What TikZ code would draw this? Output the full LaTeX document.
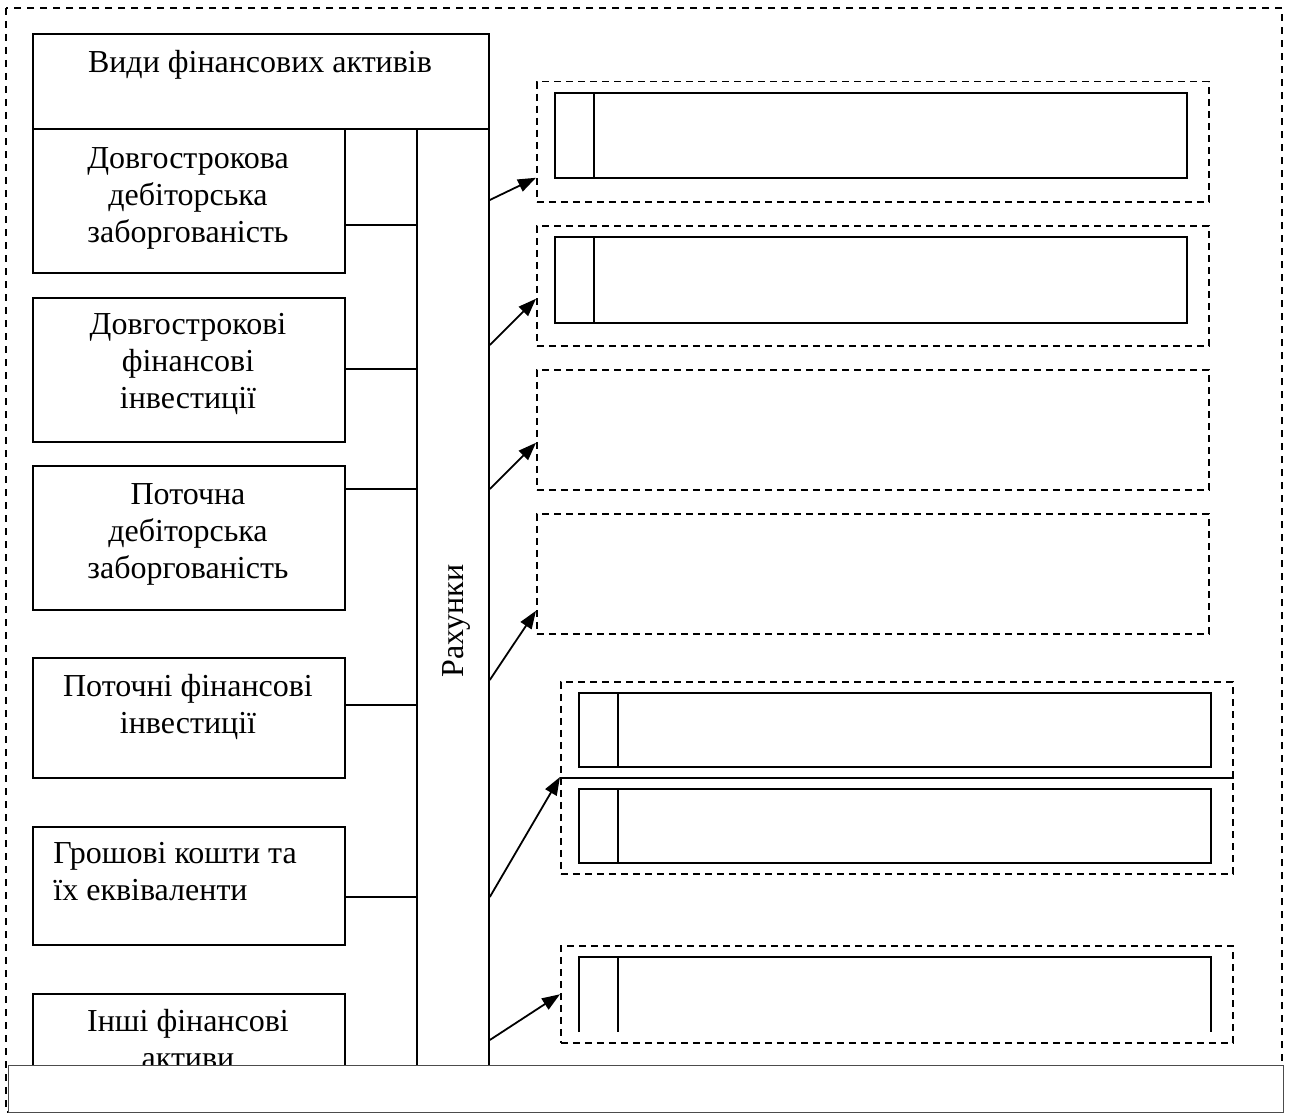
\documentclass[tikz,border=0pt]{standalone}
\usepackage{fontspec}
\setmainfont{Liberation Serif}
\usetikzlibrary{arrows.meta}

\begin{document}
\begin{tikzpicture}
        [
        x=0.5pt, y=-0.5pt,
        every node/.style={font=\fontsize{16}{18.5}\selectfont},
        Box/.style={rectangle,draw,line width=0.9pt,inner sep=0pt,anchor=north west},
        Tag/.style={rectangle,inner sep=0pt,align=center},
        Frame/.style={rectangle,draw,line width=0.75pt,dash pattern=on 3.5pt off 2.5pt,inner sep=0pt,anchor=north west,minimum width=336pt,minimum height=60pt},
        Cell/.style={line width=0.85pt},
        Link/.style={line width=0.7pt},
        Arrow/.style={line width=0.9pt,-{Triangle[length=9pt,width=6.5pt]}},
        ]
        \useasboundingbox (0,0) rectangle (1289,1113);

        \draw[line width=0.75pt,dash pattern=on 3.5pt off 3pt] (6,8) rectangle (1282,1112);

        % left part
        \node[Box,minimum width=228pt,minimum height=47.5pt] (kinds) at (32,33) {};
        \node[Tag,anchor=base] (kindsText) at (260,73) {Види фінансових активів};
        \node[Box,minimum width=36pt,minimum height=468.5pt] (acc) at (416,128) {};
        \node[Tag,rotate=90] (accText) at (456,621) {Рахунки};

\node[Box,minimum width=156pt,minimum height=72pt] (b1) at (32,128) {};
\node[Tag] (t1) at (188,198) {Довгострокова\\дебіторська\\заборгованість};
\node[Box,minimum width=156pt,minimum height=72pt] (b2) at (32,297) {};
\node[Tag] (t2) at (188,363.5) {Довгострокові\\фінансові\\інвестиції};
\node[Box,minimum width=156pt,minimum height=72pt] (b3) at (32,465) {};
\node[Tag] (t3) at (188,534) {Поточна\\дебіторська\\заборгованість};
\node[Box,minimum width=156pt,minimum height=60pt] (b4) at (32,657) {};
\node[Tag] (t4) at (188,706.5) {Поточні фінансові\\інвестиції};
\node[Box,minimum width=156pt,minimum height=59pt] (b5) at (32,826) {};
\node[Tag,anchor=west,align=left] (t5) at (53,872) {Грошові кошти та\\їх еквіваленти};
\node[Box,minimum width=156pt,minimum height=52pt] (b6) at (32,993) {};
\node[Tag] (t6) at (188,1039.5) {Інші фінансові\\активи};

\draw[Link] (b1.east |- 0,225) -- (acc.west |- 0,225);
\draw[Link] (b2.east |- 0,369) -- (acc.west |- 0,369);
\draw[Link] (b3.east |- 0,489) -- (acc.west |- 0,489);
\draw[Link] (b4.east |- 0,705) -- (acc.west |- 0,705);
\draw[Link] (b5.east |- 0,897) -- (acc.west |- 0,897);

% right part
\node[Frame] (d1) at (536,81) {};
\node[Frame] (d2) at (536,225) {};
\node[Frame] (d3) at (536,369) {};
\node[Frame] (d4) at (536,513) {};
\node[Frame,minimum height=48pt] (d5) at (560,681) {};
\node[Frame,minimum height=48pt] (d6) at (560,777) {};
\node[Frame,minimum height=48.5pt] (d7) at (560,945) {};

\draw[Cell] (555,93) rectangle (1187,178) (594,93) -- (594,178);
\draw[Cell] (555,237) rectangle (1187,323) (594,237) -- (594,323);
\draw[Cell] (579,693) rectangle (1211,767) (618,693) -- (618,767);
\draw[Cell] (579,789) rectangle (1211,863) (618,789) -- (618,863);
\draw[Cell] (579,1032) -- (579,957) -- (1211,957) -- (1211,1032) (618,957) -- (618,1032);

\draw[Arrow] (acc.east |- 0,200) -- ([yshift=-18pt]d1.west);
\draw[Arrow] (acc.east |- 0,345) -- ([yshift=-6.5pt]d2.west);
\draw[Arrow] (acc.east |- 0,489) -- ([yshift=-6.5pt]d3.west);
\draw[Arrow] (acc.east |- 0,680) -- ([yshift=-18.5pt]d4.west);
\draw[Arrow] (acc.east |- 0,897) -- (d6.north west);
\draw[Arrow] (acc.east |- 0,1040) -- (d7.west);

        \node[draw=black!70,fill=white,line width=0.6pt,anchor=north west,minimum width=637.5pt,minimum height=23.5pt,inner sep=0pt] (bar) at (8,1065) {};

    \end{tikzpicture}
\end{document}
